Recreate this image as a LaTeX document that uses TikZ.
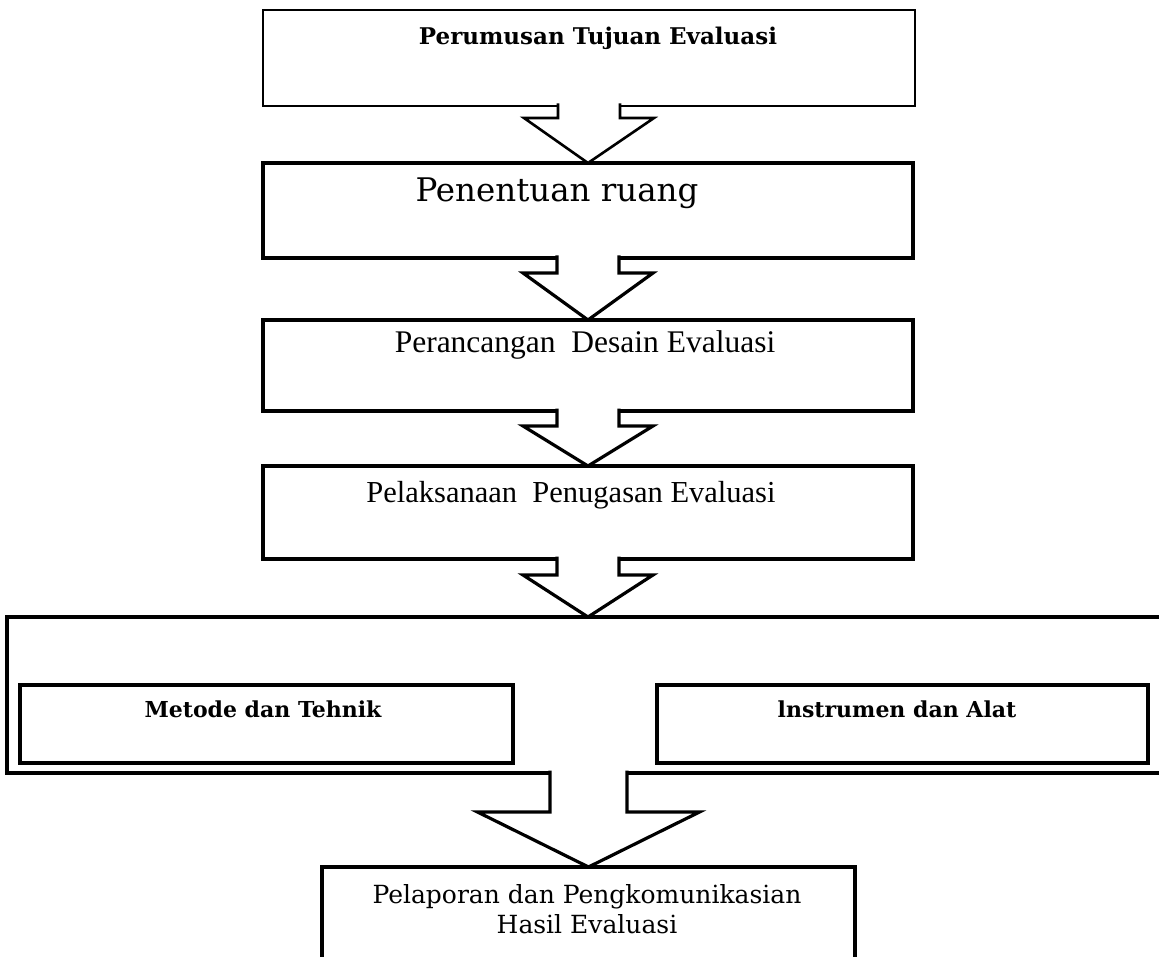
\documentclass[tikz,border=0pt]{standalone}
\usepackage{fontspec}
\setmainfont{Liberation Serif}
\newfontfamily\wideserif{DejaVu Serif}
\usepackage{tikz}
\usetikzlibrary{calc}
\tikzset{
	stage/.style={draw, rectangle, line width=3.2pt, inner sep=0pt, outer sep=0pt},
	label/.style={anchor=base, inner sep=0pt},
}
\def\blockarrow[#1](#2)(#3)(#4:#5:#6){\draw[#1] ($(#2)+(-#4,-2.5)$) -- ($(#2)+(-#4,#6)$) -- ($(#2)+(-#5,#6)$) -- (#3) -- ($(#2)+(#5,#6)$) -- ($(#2)+(#4,#6)$) -- ($(#2)+(#4,-2.5)$);}

\begin{document}
\begin{tikzpicture}[x=1pt, y=-1pt]
			%%%%% START %%%%%
			
			\clip (0, 0) rectangle (1159, 957);
			\fill[white] (0, 0) rectangle (1159, 957);
			
			\node[stage, line width=2pt, minimum width=652pt, minimum height=96pt] (goal) at (589, 58) {};
			\node[stage, minimum width=650pt, minimum height=95pt] (scope) at (588, 210.5) {};
			\node[stage, minimum width=650pt, minimum height=91pt] (design) at (588, 365.5) {};
			\node[stage, minimum width=650pt, minimum height=93pt] (exec) at (588, 512.5) {};
			
			\node[stage, minimum width=1168pt, minimum height=156pt] (tools) at (591, 695) {};
			\node[stage, minimum width=493pt, minimum height=78pt] (method) at (266.5, 724) {};
			\node[stage, minimum width=491pt, minimum height=78pt] (instr) at (902.5, 724) {};
			
			\node[stage, minimum width=533pt, minimum height=133pt] (report) at (588.5, 933.5) {};
			
			\blockarrow[line width=2.6pt, fill=white](goal.south)(scope.north)(31:65:12);
			\blockarrow[line width=3.2pt, fill=white](scope.south)(design.north)(31:65:15);
			\blockarrow[line width=3.2pt, fill=white](design.south)(exec.north)(31:65:15);
			\blockarrow[line width=3.2pt, fill=white](exec.south)(tools.north -| exec.south)(31:65:16);
			\blockarrow[line width=3.2pt, fill=white](tools.south -| report.north)(report.north)(38.5:111:39);
			
			\node[label, font=\wideserif\bfseries\fontsize{23}{27}\selectfont] (goaltext) at (598, 45) {Perumusan Tujuan Evaluasi};
			\node[label, font=\wideserif\fontsize{32.5}{38}\selectfont] (scopetext) at (557, 202) {Penentuan ruang};
			\node[label, font=\fontsize{31.5}{36}\selectfont] (designtext) at (585, 353) {Perancangan~ Desain Evaluasi};
			\node[label, font=\fontsize{30.5}{36}\selectfont] (exectext) at (571, 502) {Pelaksanaan~ Penugasan Evaluasi};
			\node[label, font=\wideserif\bfseries\fontsize{22}{26}\selectfont] (methodtext) at (263, 717) {Metode dan Tehnik};
			\node[label, font=\wideserif\bfseries\fontsize{22}{26}\selectfont] (instrtext) at (897, 717) {lnstrumen dan Alat};
			\node[label, align=center, font=\wideserif\fontsize{25}{30}\selectfont] (reporttext) at (587, 933) {Pelaporan dan Pengkomunikasian\\Hasil Evaluasi};
			
			%%%%% END %%%%%
\end{tikzpicture}
\end{document}
